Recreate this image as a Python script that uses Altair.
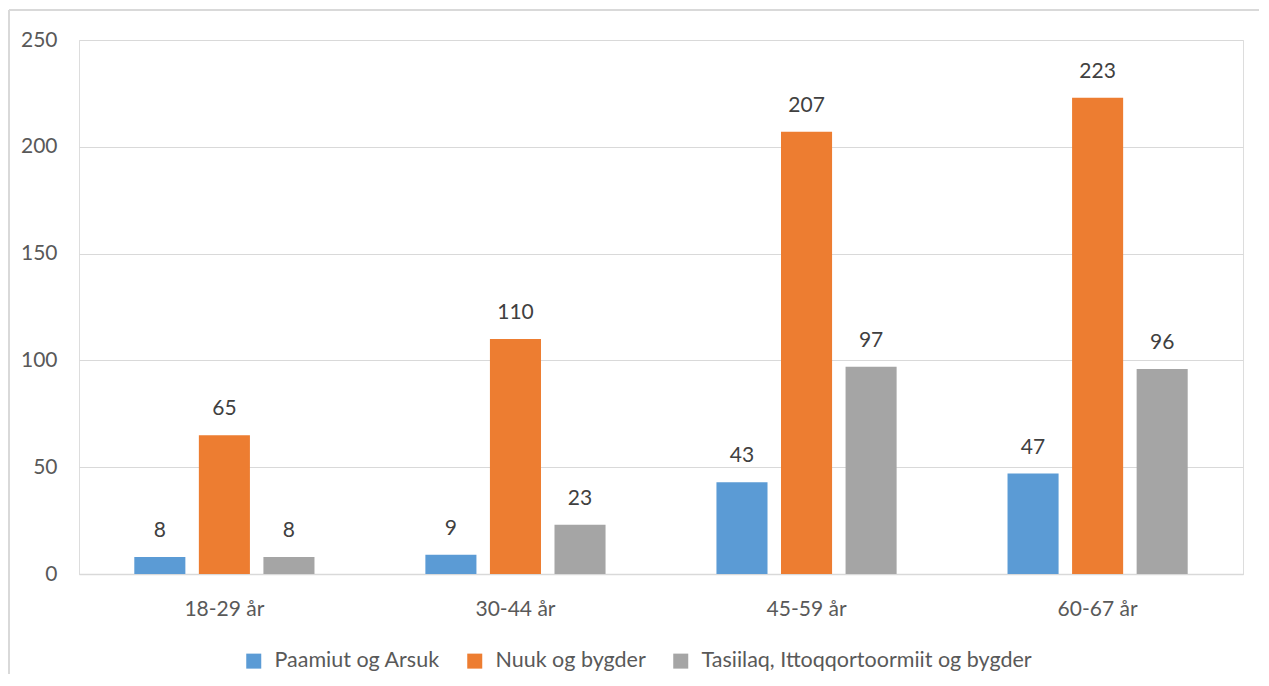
import altair as alt
import pandas as pd

categories = ["18-29 år", "30-44 år", "45-59 år", "60-67 år"]
series = ["Paamiut og Arsuk", "Nuuk og bygder", "Tasiilaq, Ittoqqortoormiit og bygder"]
paamiut = [8, 9, 43, 47]
nuuk = [65, 110, 207, 223]
tasiilaq = [8, 23, 97, 96]
colors = ["#5B9BD5", "#ED7D31", "#A5A5A5"]
y_ticks = [0, 50, 100, 150, 200, 250]

rows = []
for s, vals in zip(series, [paamiut, nuuk, tasiilaq]):
    for c, v in zip(categories, vals):
        rows.append({"kategori": c, "serie": s, "antal": v})
df = pd.DataFrame(rows)

FONT = "Lato"

base = alt.Chart(df).encode(
    x=alt.X("kategori:N", sort=categories,
            scale=alt.Scale(paddingInner=0.381, paddingOuter=0.19),
            axis=alt.Axis(title=None, labelAngle=0, labelFontSize=21, labelColor="#595959",
                          labelFont=FONT, labelPadding=24, ticks=False,
                          domainColor="#d9d9d9", domainWidth=1.5)),
    xOffset=alt.XOffset("serie:N", sort=series,
                        scale=alt.Scale(paddingInner=0.209, paddingOuter=0)),
    y=alt.Y("antal:Q", scale=alt.Scale(domain=[0, 250], nice=False),
            axis=alt.Axis(title=None, values=y_ticks, labelFontSize=21, labelColor="#595959",
                          labelFont=FONT, labelPadding=22, ticks=False, domain=False,
                          gridColor="#d9d9d9", gridWidth=1)),
)

bars = base.mark_bar().encode(
    color=alt.Color("serie:N", sort=series,
                    scale=alt.Scale(domain=series, range=colors),
                    legend=alt.Legend(title=None, orient="none", direction="horizontal",
                                      legendX=164, legendY=610,
                                      symbolType="square", symbolSize=225,
                                      symbolStrokeWidth=0, labelLimit=1000,
                                      labelFontSize=21.5, labelColor="#595959", labelFont=FONT,
                                      labelOffset=10, columnPadding=24))
)

labels = base.mark_text(baseline="alphabetic", dy=-20, fontSize=21, font=FONT,
                        color="#404040").encode(text="antal:Q")

border_df = pd.DataFrame({"d": [0]})
left_border = alt.Chart(border_df).mark_rule(color="#d9d9d9", strokeWidth=2).encode(
    x=alt.value(-70), y=alt.value(-30), y2=alt.value(640))
top_border = alt.Chart(border_df).mark_rule(color="#d9d9d9", strokeWidth=2).encode(
    x=alt.value(-70), x2=alt.value(1190), y=alt.value(-30))

chart = alt.layer(bars, labels, left_border, top_border).properties(
    width=1164, height=534,
    padding={"left": 71, "top": 32, "right": 16, "bottom": 100},
    autosize=alt.AutoSizeParams(type="none"),
).configure_view(stroke=None).configure(font=FONT)

chart.save("out.html", embed_options={"renderer": "svg", "actions": False})
